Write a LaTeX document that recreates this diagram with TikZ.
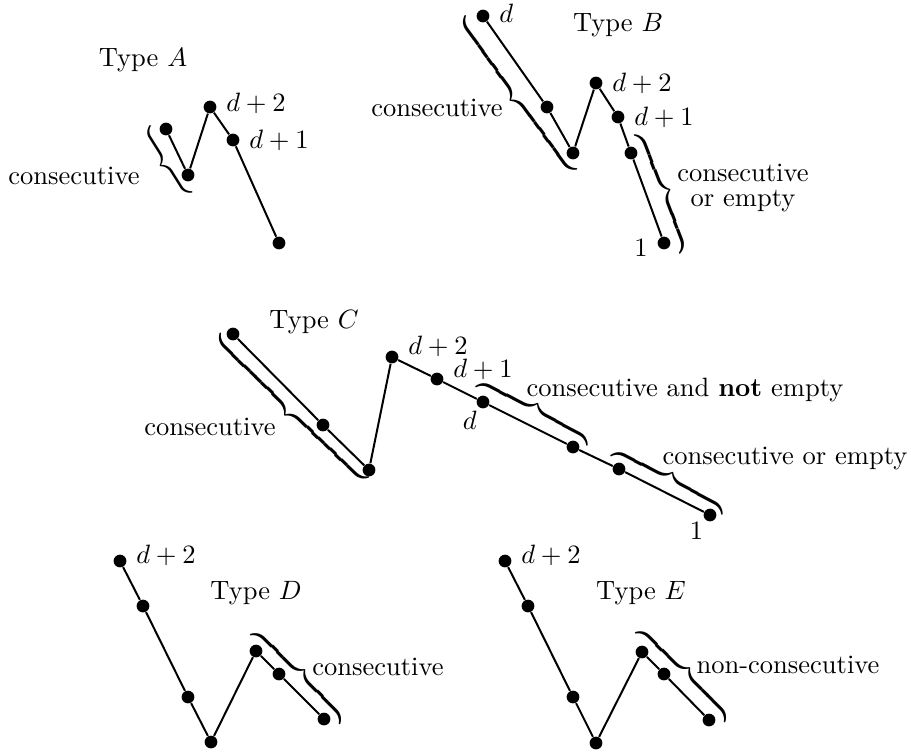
\documentclass[tikz,border=0pt]{standalone}
\usepackage{amsmath, amssymb}
\usepackage{tikz}
\usetikzlibrary{calc, positioning}

% rotated TeX brace along a segment, tip on the left of (#2)->(#3)
\newcommand{\segbrace}[3]{%
  \path let \p1=($(#3)-(#2)$), \n1={0.93*veclen(\x1,\y1)}, \n2={atan2(\y1,\x1)-90} in
    node[brc, rotate=\n2, xshift=2.6pt] (#1) at ($(#2)!0.5!(#3)$)
    {$\delimiterfactor=1000 \delimitershortfall=0pt \nulldelimiterspace=0pt
      \left\{\vcenter{\hrule height \n1 width 0pt}\right.$};}

\begin{document}
\begin{tikzpicture}[x=0.3771pt, y=-0.3771pt,
    vtx/.style={circle, fill, inner sep=0pt, minimum size=4.8pt},
    brc/.style={anchor=east, inner sep=0pt},
    seg/.style={line width=0.75pt}]
  \useasboundingbox (0,0) rectangle (911,751);

  % Type A
  \node (ta) at (143,60) {Type $A$};
  \node[vtx] (a1) at (166,129) {};
  \node[vtx] (a2) at (188,175) {};
  \node[vtx] (a3) at (210,107) {};
  \node[vtx] (a4) at (233,140) {};
  \node[vtx] (a5) at (279,243) {};
  \draw[seg] (a1) -- (a2) -- (a3) -- (a4) -- (a5);
  \node[right=0pt of a3, yshift=1.5pt] (la3) {$d+2$};
  \node[right=0pt of a4] (la4) {$d+1$};
  \segbrace{ba}{192,195}{148,125}
  \node (ca) at (74,176) {consecutive};

  % Type B
  \node (tb) at (618,25) {Type $B$};
  \node[vtx] (b1) at (483,16) {};
  \node[vtx] (b2) at (547,107) {};
  \node[vtx] (b3) at (573,153) {};
  \node[vtx] (b4) at (596,83) {};
  \node[vtx] (b5) at (618,117) {};
  \node[vtx] (b6) at (631,153) {};
  \node[vtx] (b7) at (664,243) {};
  \draw[seg] (b1) -- (b2) -- (b3) -- (b4) -- (b5) -- (b6) -- (b7);
  \node[right=0pt of b1, yshift=1pt] (lb1) {$d$};
  \node[right=0pt of b4] (lb4) {$d+2$};
  \node[right=0pt of b5] (lb5) {$d+1$};
  \node[left=0pt of b7, yshift=-2pt] (lb7) {$1$};
  \segbrace{bb1}{578,172}{463,15}
  \node (cb1) at (437,108) {consecutive};
  \segbrace{bb2}{635,133}{682,255}
  \node (cb2) at (743,188) {\shortstack{consecutive\\or empty}};

  % Type C
  \node (tc) at (314,322) {Type $C$};
  \node[vtx] (c1) at (233,334) {};
  \node[vtx] (c2) at (323,425) {};
  \node[vtx] (c3) at (369,470) {};
  \node[vtx] (c4) at (392,357) {};
  \node[vtx] (c5) at (437,379) {};
  \node[vtx] (c6) at (483,402) {};
  \node[vtx] (c7) at (573,447) {};
  \node[vtx] (c8) at (619,469) {};
  \node[vtx] (c9) at (710,515) {};
  \draw[seg] (c1) -- (c2) -- (c3) -- (c4) -- (c5) -- (c6) -- (c7) -- (c8) -- (c9);
  \node[right=0pt of c4, yshift=4pt] (lc4) {$d+2$};
  \node[right=0pt of c5, yshift=3.5pt] (lc5) {$d+1$};
  \node[below left=-2pt and -3pt of c6] (lc6) {$d$};
  \node[below left=-2.5pt and -2.8pt of c9] (lc9) {$1$};
  \segbrace{bc1}{373,483}{215,330}
  \node (cc1) at (210,427) {consecutive};
  \segbrace{bc2}{475,385}{590,445}
  \node (cc2) at (685,390) {consecutive and \textbf{not} empty};
  \segbrace{bc3}{608,453}{727,515}
  \node (cc3) at (785,458) {consecutive or empty};

  % Type D
  \node (td) at (256,593) {Type $D$};
  \node[vtx] (d1) at (120,561) {};
  \node[vtx] (d2) at (143,606) {};
  \node[vtx] (d3) at (188,697) {};
  \node[vtx] (d4) at (211,742) {};
  \node[vtx] (d5) at (256,651) {};
  \node[vtx] (d6) at (279,674) {};
  \node[vtx] (d7) at (324,719) {};
  \draw[seg] (d1) -- (d2) -- (d3) -- (d4) -- (d5) -- (d6) -- (d7);
  \node[right=0pt of d1, yshift=2.3pt] (ld1) {$d+2$};
  \segbrace{bd}{250,632}{343,725}
  \node (cd) at (378,667) {consecutive};

  % Type E
  \node (te) at (641,593) {Type $E$};
  \node[vtx] (e1) at (505,561) {};
  \node[vtx] (e2) at (528,606) {};
  \node[vtx] (e3) at (573,697) {};
  \node[vtx] (e4) at (596,743) {};
  \node[vtx] (e5) at (642,652) {};
  \node[vtx] (e6) at (664,674) {};
  \node[vtx] (e7) at (709,720) {};
  \draw[seg] (e1) -- (e2) -- (e3) -- (e4) -- (e5) -- (e6) -- (e7);
  \node[right=0pt of e1, yshift=2.3pt] (le1) {$d+2$};
  \segbrace{be}{635,631}{728,723}
  \node (ce) at (788,665) {non-consecutive};
\end{tikzpicture}
\end{document}
